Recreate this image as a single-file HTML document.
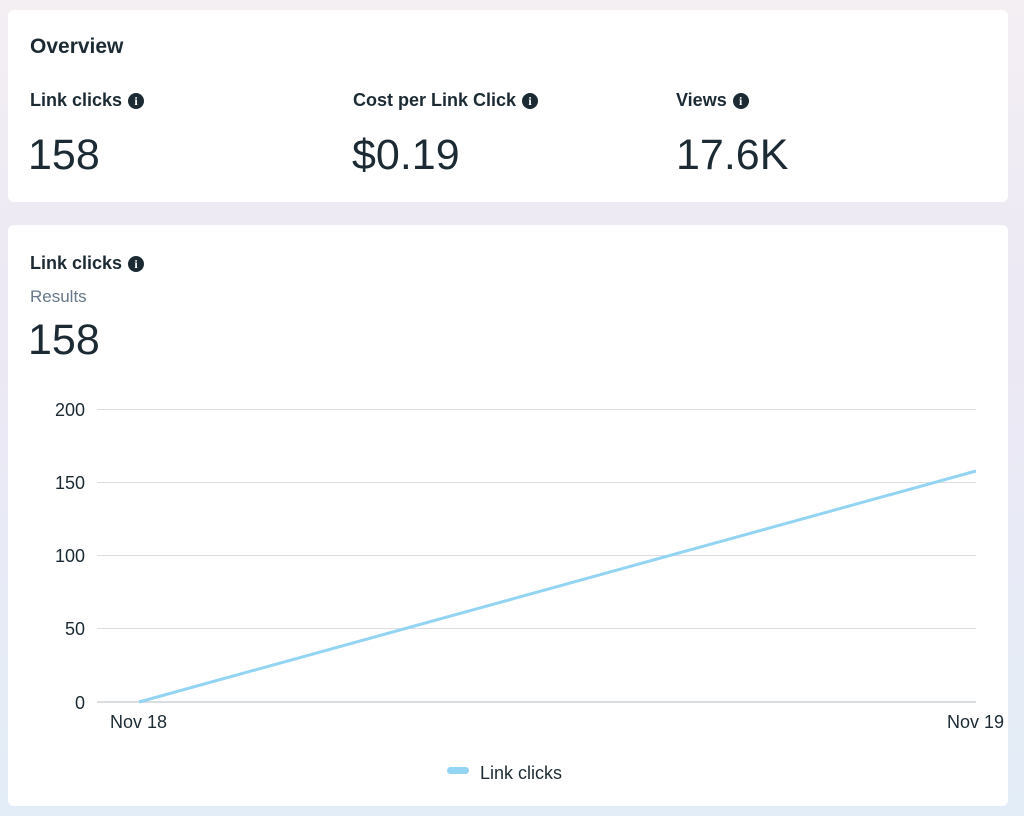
<!DOCTYPE html>
<html><head><style>
body{margin:0;width:1024px;height:816px;background:linear-gradient(180deg,#f3eff3 0%,#ece8f4 40%,#e3edf7 100%);font-family:"Liberation Sans",sans-serif;color:#1c2b33;position:relative;overflow:hidden}
.card{position:absolute;background:#fff;border-radius:6px;left:8px;width:1000px}
.t{position:absolute;white-space:nowrap}
.h{font-weight:bold;font-size:18px}
.big{font-size:43px}
.i{display:inline-block;width:16px;height:16px;border-radius:50%;background:#1c2b33;color:#fff;font-size:12px;font-weight:bold;text-align:center;line-height:16px;vertical-align:1px;margin-left:6px;font-family:"Liberation Serif",serif}
</style></head><body>
<div class="card" style="top:10px;height:192px"></div>
<div class="card" style="top:225px;height:581px"></div>
<div class="t" style="left:30px;top:35px;font-weight:bold;font-size:21px">Overview</div>
<div class="t h" style="left:30px;top:90px">Link clicks<span class="i">i</span></div>
<div class="t h" style="left:353px;top:90px">Cost per Link Click<span class="i">i</span></div>
<div class="t h" style="left:676px;top:90px">Views<span class="i">i</span></div>
<div class="t big" style="left:28px;top:131px">158</div>
<div class="t big" style="left:352px;top:131px">$0.19</div>
<div class="t big" style="left:676px;top:131px">17.6K</div>
<div class="t h" style="left:30px;top:253px">Link clicks<span class="i">i</span></div>
<div class="t" style="left:30px;top:287px;font-size:17px;color:#67788a">Results</div>
<div class="t big" style="left:28px;top:316px">158</div>
<svg width="1024" height="816" style="position:absolute;left:0;top:0" font-family="Liberation Sans" font-size="18" fill="#1c2b33">
<g stroke="#dadde1" stroke-width="1">
<line x1="97" x2="976" y1="409.5" y2="409.5"/><line x1="97" x2="976" y1="482.5" y2="482.5"/><line x1="97" x2="976" y1="555.5" y2="555.5"/><line x1="97" x2="976" y1="628.5" y2="628.5"/><line x1="97" x2="976" y1="702" y2="702" stroke="#cfd3d7" stroke-width="1.5"/>
</g>
<g text-anchor="end"><text x="85" y="416">200</text><text x="85" y="489">150</text><text x="85" y="562">100</text><text x="85" y="635">50</text><text x="85" y="709">0</text></g>
<text x="110" y="728">Nov 18</text><text x="947" y="728">Nov 19</text>
<line x1="139" y1="702" x2="976" y2="471" stroke="#93d4f3" stroke-width="3"/>
<rect x="447" y="767" width="22" height="7" rx="3.5" fill="#93d4f3"/>
<text x="480" y="779">Link clicks</text>
</svg>
</body></html>
